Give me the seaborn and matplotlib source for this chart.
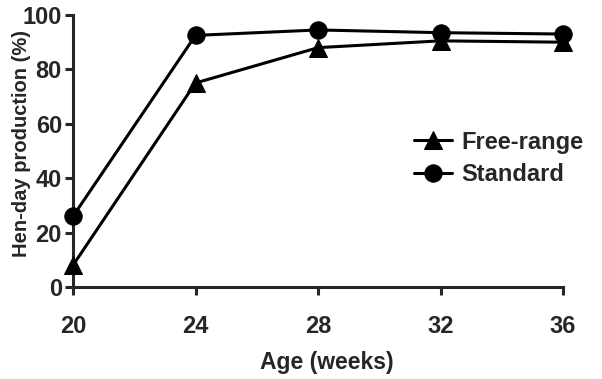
import matplotlib
matplotlib.use("Agg")
import matplotlib.pyplot as plt
import seaborn as sns
import pandas as pd

ages = [20, 24, 28, 32, 36]
free_range = [8, 75, 88, 90.5, 90]
standard = [26, 92.5, 94.5, 93.5, 93]
series_names = ["Free-range", "Standard"]
x_ticks = [20, 24, 28, 32, 36]
y_ticks = [0, 20, 40, 60, 80, 100]

sns.set_style("ticks")
plt.rcParams['font.family'] = ['Liberation Sans', 'DejaVu Sans']
plt.rcParams['font.weight'] = 'bold'

df = pd.DataFrame({
    "Age": ages * 2,
    "Production": free_range + standard,
    "Group": [series_names[0]] * len(ages) + [series_names[1]] * len(ages),
})

fig = plt.figure(figsize=(6.02, 3.79), dpi=100)
ax = fig.add_axes([73/602, 1 - 287/379, (563 - 73)/602, (287 - 15)/379])

sns.lineplot(data=df, x="Age", y="Production", hue="Group", style="Group",
             palette={series_names[0]: "black", series_names[1]: "black"},
             markers={series_names[0]: "^", series_names[1]: "o"},
             dashes=False, markersize=12.5, linewidth=2.2,
             markeredgecolor="black", ax=ax, clip_on=False, zorder=3)

ax.set_xlim(20, 36)
ax.set_ylim(0, 100)
ax.set_xticks(x_ticks)
ax.set_yticks(y_ticks)
ax.tick_params(axis="both", width=2.2, length=6, labelsize=17)
for lab in ax.get_xticklabels() + ax.get_yticklabels():
    lab.set_fontweight("bold")
ax.tick_params(axis="x", pad=14)
ax.tick_params(axis="y", pad=2)
for s in ["left", "bottom"]:
    ax.spines[s].set_linewidth(2.2)
sns.despine(ax=ax)

ax.set_xlabel("Age (weeks)", fontsize=16.5, fontweight="bold")
ax.set_ylabel("Hen-day production (%)", fontsize=14.5, fontweight="bold")
ax.xaxis.set_label_coords(0.518, -0.236)
ax.yaxis.set_label_coords(-0.086, 0.527)

leg = ax.legend(loc="upper left", bbox_to_anchor=(0.677, 0.61), frameon=False,
                prop={"size": 17, "weight": "bold"}, handlelength=1.6,
                handletextpad=0.4, labelspacing=0.4, borderaxespad=0)

fig.savefig("out.png", dpi=100)
